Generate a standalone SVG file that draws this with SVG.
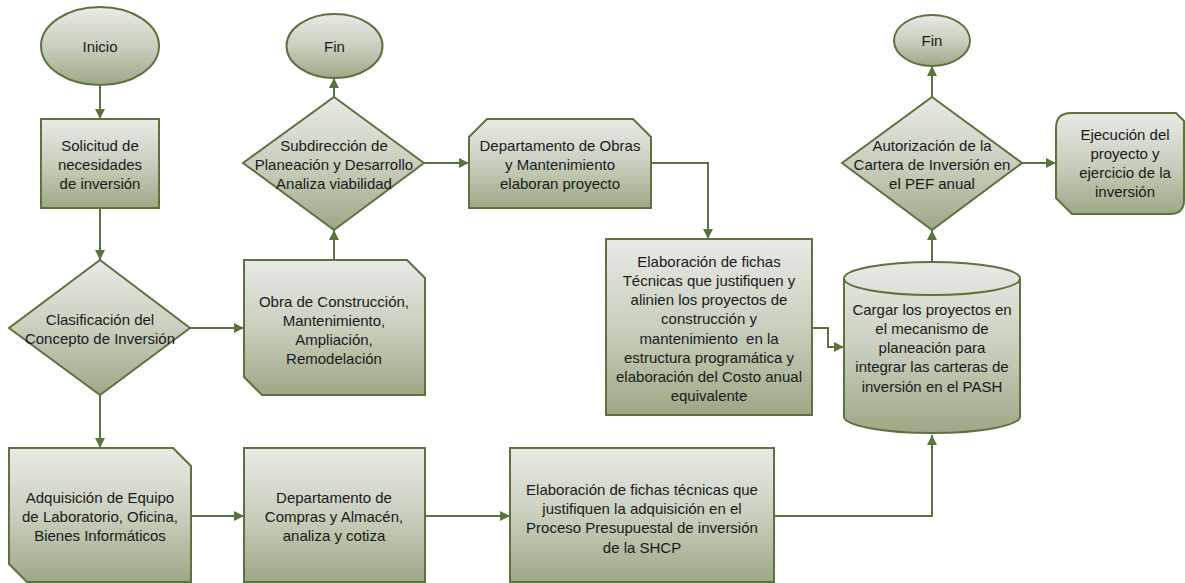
<svg xmlns="http://www.w3.org/2000/svg" width="1185" height="583" viewBox="0 0 1185 583">
<defs>
<linearGradient id="g" x1="0" y1="0" x2="0" y2="1">
<stop offset="0" stop-color="#e8eae5"/>
<stop offset="0.5" stop-color="#c9cfbf"/>
<stop offset="1" stop-color="#9da886"/>
</linearGradient>
<marker id="ah" viewBox="0 0 10 10" refX="10" refY="5" markerWidth="10" markerHeight="10" markerUnits="userSpaceOnUse" orient="auto">
<path d="M0,0 L10,5 L0,10 z" fill="#5e7240"/>
</marker>
<style>
.n{fill:url(#g);stroke:#5e7240;stroke-width:2}
.t{font-family:"Liberation Sans",Arial,sans-serif;font-size:15px;fill:#1a1a1a;text-anchor:middle}
.c{fill:none;stroke:#5e7240;stroke-width:2;marker-end:url(#ah)}
</style>
</defs>
<rect width="1185" height="583" fill="#ffffff"/>
<g id="connectors">
<path class="c" d="M100,86 L100,119"/>
<path class="c" d="M100,208 L100,260"/>
<path class="c" d="M190,328 L244,328"/>
<path class="c" d="M100,395 L100,448"/>
<path class="c" d="M334,260 L334,230"/>
<path class="c" d="M334,97 L334,78"/>
<path class="c" d="M424,163 L469,163"/>
<path class="c" d="M651,163 L708,163 L708,239"/>
<path class="c" d="M812,328 L828,328 L828,347 L844,347"/>
<path class="c" d="M932,262 L932,230"/>
<path class="c" d="M932,97 L932,66"/>
<path class="c" d="M1022,163 L1056,163"/>
<path class="c" d="M191,516 L244,516"/>
<path class="c" d="M425,516 L510,516"/>
<path class="c" d="M774,516 L932,516 L932,435"/>
</g>
<g id="inicio">
<ellipse class="n" cx="100" cy="46" rx="59" ry="39"/>
<text class="t" x="100" y="52">Inicio</text>
</g>
<g id="solicitud">
<rect class="n" x="41" y="119" width="118" height="89"/>
<text class="t" x="100" y="151">Solicitud de</text>
<text class="t" x="100" y="170">necesidades</text>
<text class="t" x="100" y="189">de inversión</text>
</g>
<g id="clasificacion">
<polygon class="n" points="100,260 190,328 100,395 9,328"/>
<text class="t" x="100" y="325">Clasificación del</text>
<text class="t" x="100" y="344">Concepto de Inversión</text>
</g>
<g id="obra">
<polygon class="n" points="244,260 407,260 425,278 425,395 262,395 244,377"/>
<text class="t" x="334" y="307">Obra de Construcción,</text>
<text class="t" x="334" y="326">Mantenimiento,</text>
<text class="t" x="334" y="345">Ampliación,</text>
<text class="t" x="334" y="364">Remodelación</text>
</g>
<g id="subdireccion">
<polygon class="n" points="334,97 424,163 334,230 243,163"/>
<text class="t" x="334" y="151">Subdirección de</text>
<text class="t" x="334" y="170">Planeación y Desarrollo</text>
<text class="t" x="334" y="189">Analiza viabilidad</text>
</g>
<g id="fin1">
<ellipse class="n" cx="334.5" cy="46" rx="48" ry="32"/>
<text class="t" x="334.5" y="52">Fin</text>
</g>
<g id="obras">
<polygon class="n" points="487,119 633,119 651,137 651,208 469,208 469,137"/>
<text class="t" x="560" y="151">Departamento de Obras</text>
<text class="t" x="560" y="170">y Mantenimiento</text>
<text class="t" x="560" y="189">elaboran proyecto</text>
</g>
<g id="fichas">
<rect class="n" x="606" y="239" width="206" height="176"/>
<text class="t" x="709" y="267">Elaboración de fichas</text>
<text class="t" x="709" y="286">Técnicas que justifiquen y</text>
<text class="t" x="709" y="305">alinien los proyectos de</text>
<text class="t" x="709" y="324">construcción y</text>
<text class="t" x="709" y="344" xml:space="preserve" style="white-space:pre">mantenimiento  en la</text>
<text class="t" x="709" y="363">estructura programática y</text>
<text class="t" x="709" y="382">elaboración del Costo anual</text>
<text class="t" x="709" y="401">equivalente</text>
</g>
<g id="cargar">
<path class="n" d="M844,278.5 L844,416.5 A88,16.5 0 0 0 1020,416.5 L1020,278.5 A88,16.5 0 0 0 844,278.5 Z"/>
<path fill="none" stroke="#5e7240" stroke-width="2" d="M844,278.5 A88,16.5 0 0 0 1020,278.5"/>
<text class="t" x="932" y="315">Cargar los proyectos en</text>
<text class="t" x="932" y="334">el mecanismo de</text>
<text class="t" x="932" y="353">planeación para</text>
<text class="t" x="932" y="372">integrar las carteras de</text>
<text class="t" x="932" y="392">inversión en el PASH</text>
</g>
<g id="autorizacion">
<polygon class="n" points="932,97 1022,163 932,230 842,163"/>
<text class="t" x="932" y="151">Autorización de la</text>
<text class="t" x="932" y="170">Cartera de Inversión en</text>
<text class="t" x="932" y="189">el PEF anual</text>
</g>
<g id="fin2">
<ellipse class="n" cx="932" cy="40.5" rx="38" ry="25.5"/>
<text class="t" x="932" y="46">Fin</text>
</g>
<g id="ejecucion">
<path class="n" d="M1071,113 L1176,113 L1184,121 L1184,200 Q1184,214 1170,214 L1072,214 L1056,198 L1056,128 Q1056,113 1071,113 Z"/>
<text class="t" x="1125" y="140">Ejecución del</text>
<text class="t" x="1125" y="159">proyecto y</text>
<text class="t" x="1125" y="178">ejercicio de la</text>
<text class="t" x="1125" y="197">inversión</text>
</g>
<g id="adquisicion">
<polygon class="n" points="9,448 173,448 191,466 191,582 27,582 9,564"/>
<text class="t" x="100" y="503">Adquisición de Equipo</text>
<text class="t" x="100" y="522">de Laboratorio, Oficina,</text>
<text class="t" x="100" y="541">Bienes Informáticos</text>
</g>
<g id="compras">
<rect class="n" x="244" y="448" width="181" height="134"/>
<text class="t" x="334" y="503">Departamento de</text>
<text class="t" x="334" y="522">Compras y Almacén,</text>
<text class="t" x="334" y="541">analiza y cotiza</text>
</g>
<g id="shcp">
<rect class="n" x="510" y="448" width="264" height="134"/>
<text class="t" x="642" y="495">Elaboración de fichas técnicas que</text>
<text class="t" x="642" y="514">justifiquen la adquisición en el</text>
<text class="t" x="642" y="533">Proceso Presupuestal de inversión</text>
<text class="t" x="642" y="553">de la SHCP</text>
</g>
</svg>
